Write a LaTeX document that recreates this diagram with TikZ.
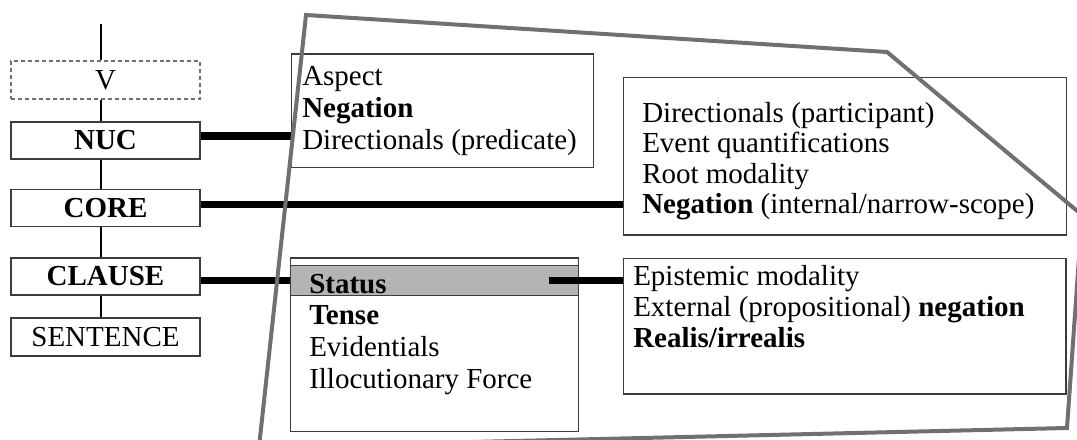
\documentclass[tikz,border=0pt]{standalone}
\usepackage{fontspec}
\setmainfont{Liberation Serif}
\definecolor{boxc}{RGB}{60,60,60}
\definecolor{framec}{RGB}{112,112,112}
\definecolor{bandc}{RGB}{180,180,180}
\begin{document}
\begin{tikzpicture}[x=0.75pt,y=-0.75pt,
  lvl/.style={draw=boxc, line width=1pt, fill=white, minimum width=141.75pt, inner sep=0pt,
    font=\fontsize{21.75pt}{24pt}\selectfont},
  vbox/.style={lvl, draw=framec, dashed, dash pattern=on 3pt off 2.2pt},
  infobox/.style={draw=boxc, line width=1pt, fill=white, inner sep=0pt, anchor=north west},
  txt/.style={inner sep=0pt, anchor=north west, align=left},
  bar/.style={line width=5.6pt, black},
  vline/.style={line width=1pt, black},
  frame/.style={line width=3pt, framec, line join=miter}
]
\useasboundingbox (0,0) rectangle (1077,439);
\clip (0,0) rectangle (1077,439);

% vertical spine
\coordinate (vtop) at (101,24);
\node[lvl, minimum height=28.5pt, vbox] (v) at (105.5,80) {V};
\node[lvl, minimum height=27.75pt] (nuc) at (105.5,140.5) {\textbf{NUC}};
\node[lvl, minimum height=28.1pt] (core) at (105.5,208) {\textbf{CORE}};
\node[lvl, minimum height=27.75pt] (clause) at (105.5,276.5) {\textbf{CLAUSE}};
\node[lvl, minimum height=28.5pt] (sent) at (105.5,337) {SENTENCE};
\begin{scope}[on background layer/.style={}]
\end{scope}
\draw[vline] (vtop) -- (vtop |- v.north);
\draw[vline] (vtop |- v.south) -- (vtop |- nuc.north);
\draw[vline] (vtop |- nuc.south) -- (vtop |- core.north);
\draw[vline] (vtop |- core.south) -- (vtop |- clause.north);
\draw[vline] (vtop |- clause.south) -- (vtop |- sent.north);

% info boxes
\node[infobox, minimum width=226.5pt, minimum height=85pt] (asp) at (290.7,53.3) {};
\node[infobox, minimum width=332.25pt, minimum height=118.2pt] (rt) at (622.7,76.7) {};
\node[infobox, minimum width=215.8pt, minimum height=130pt] (st) at (290,257.3) {};
\node[infobox, fill=bandc, minimum width=215.8pt, minimum height=22.5pt] (band) at (290,265) {};
\node[infobox, minimum width=332pt, minimum height=101.7pt] (rb) at (622.7,257.7) {};

% texts
\node[txt, font=\fontsize{21.75pt}{24pt}\selectfont] (aspT) at (302,66.3)
  {Aspect\\\textbf{Negation}\\Directionals (predicate)};
\node[txt, font=\fontsize{21.75pt}{22.75pt}\selectfont] (rtT) at (642,102)
  {Directionals (participant)\\Event quantifications\\Root modality\\\textbf{Negation} (internal/narrow-scope)};
\node[txt, font=\fontsize{21.75pt}{23.75pt}\selectfont] (stT) at (309,273.6)
  {\textbf{Status}\\\textbf{Tense}\\Evidentials\\Illocutionary Force};
\node[txt, font=\fontsize{21.75pt}{23.1pt}\selectfont] (rbT) at (633,265.3)
  {Epistemic modality\\External (propositional) \textbf{negation}\\\textbf{Realis/irrealis}};

% thick connectors
\coordinate (n1) at ([yshift=3.4pt]nuc.east);
\draw[bar] (n1) -- (n1 -| asp.west);
\coordinate (c1) at ([yshift=2.6pt]core.east);
\draw[bar] (c1) -- (c1 -| rt.west);
\draw[bar] (clause.east |- band.west) -- (band.west);
\coordinate (s1) at ([xshift=-22.8pt]band.east);
\draw[bar] (s1) -- (s1 -| rb.west);

% grey frame
\draw[frame] (306,15) -- (887,52) -- (1082,215) -- (1067,428) -- (259,447) -- cycle;
\end{tikzpicture}
\end{document}
